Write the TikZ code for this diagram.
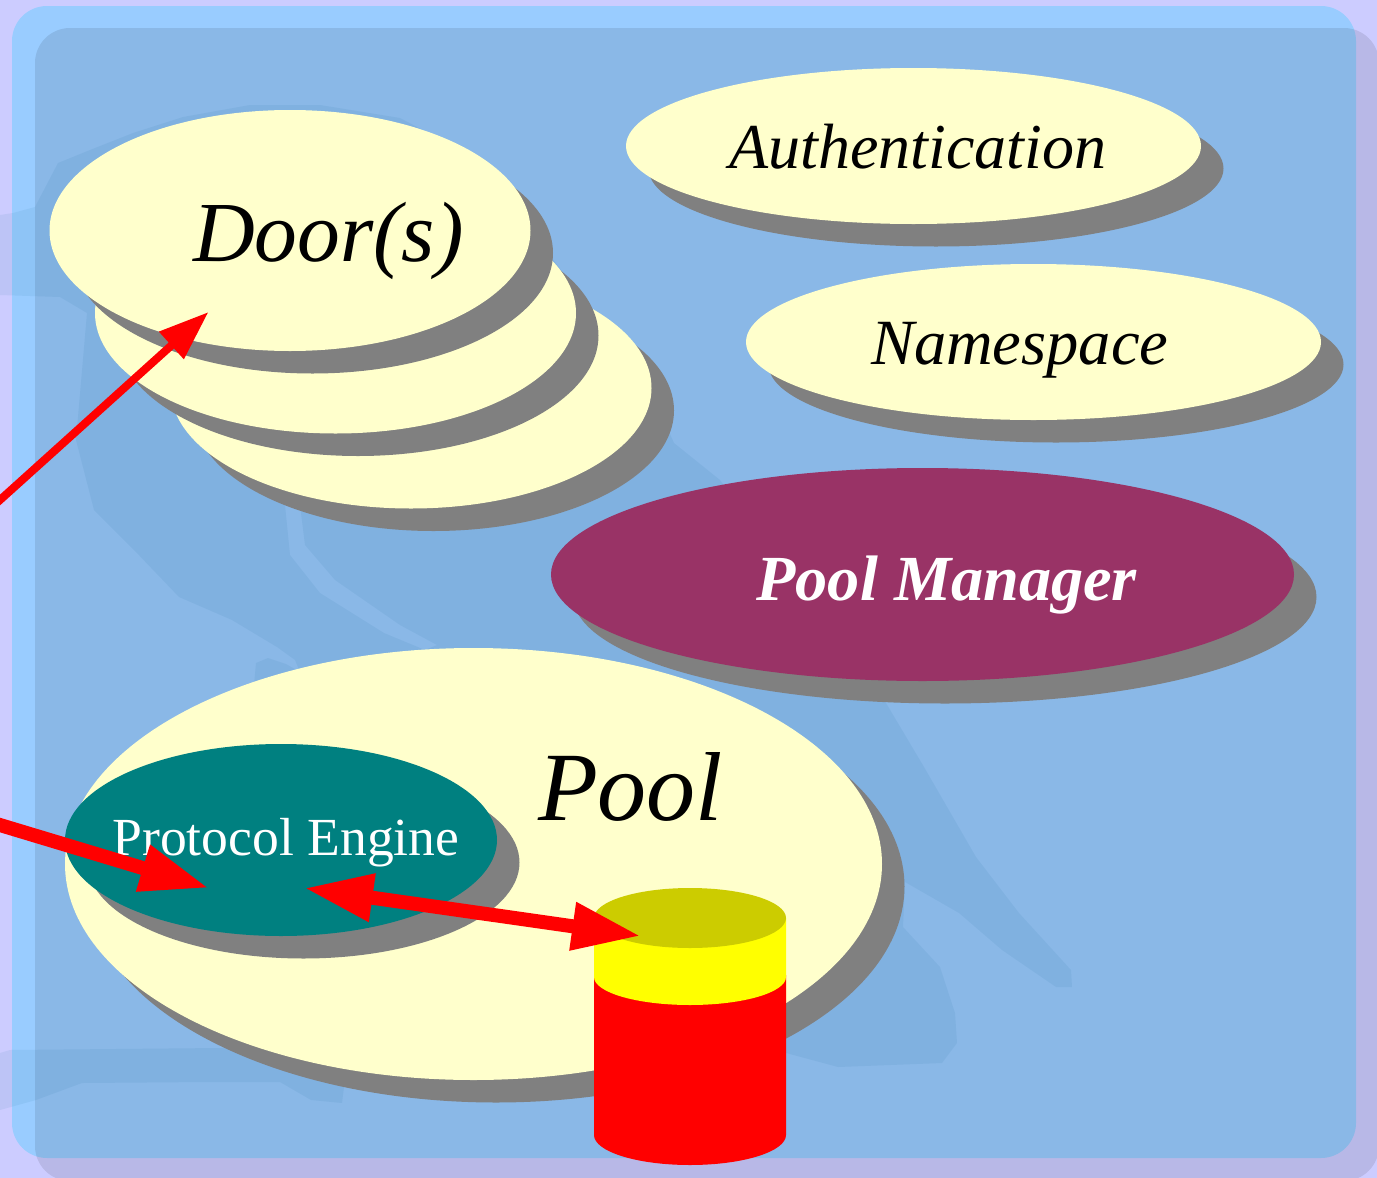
\documentclass[tikz,border=0pt]{standalone}
\usepackage{fontspec}
\setmainfont{Liberation Serif}
\usetikzlibrary{shapes.geometric,shadows,arrows.meta}
\definecolor{lav}{HTML}{CCCCFF}
\definecolor{panel}{HTML}{99CCFF}
\definecolor{cream}{HTML}{FFFFCC}
\definecolor{shadowgrey}{HTML}{808080}
\definecolor{plum}{HTML}{993366}
\definecolor{tealfill}{HTML}{008080}
\definecolor{cyltop}{HTML}{CCCC00}
\definecolor{cylband}{HTML}{FFFF00}
\definecolor{cylbody}{HTML}{FF0000}
\definecolor{wm}{HTML}{136698}
\definecolor{wire}{HTML}{FF0000}
\tikzset{
  oval/.style={ellipse,inner sep=0pt,outer sep=0pt,draw=none,
    drop shadow={shadow xshift=22.5pt,shadow yshift=-22.5pt,fill=shadowgrey,opacity=1}},
  wmark/.style={fill=wm,fill opacity=.08,draw=none},
  txt/.style={anchor=base west,inner sep=0pt,outer sep=0pt},
  wirebase/.style={draw=wire,line cap=butt,line join=miter},
  thinwire/.style={wirebase,line width=8pt,-{Triangle[length=50pt,width=35pt]}},
  fatwire/.style={wirebase,line width=14pt,>={Triangle[length=69pt,width=45pt]}}
}
\begin{document}
\begin{tikzpicture}[x=1pt,y=-1pt]
\useasboundingbox (0,0) rectangle (1377,1178);
\fill[lav] (0,0) rectangle (1377,1178);
\fill[panel,rounded corners=35pt] (12,6) rectangle (1356,1158);
\fill[black,fill opacity=.095,rounded corners=35pt] (35,28) rectangle (1379,1181);
% watermark
\path[wmark,even odd rule]
  (0,215) -- (13,213) -- (35,207) -- (58,163) -- (90,150) -- (133,133) -- (183,117) -- (250,105) -- (320,105)
  -- (400,118) -- (470,155) -- (530,230) -- (600,320) -- (650,390) -- (674,443) -- (720,480) -- (800,590)
  -- (886,703) -- (924,767) -- (976,857) -- (1019,913) -- (1071,970) -- (1072,987) -- (1056,987)
  -- (1002,950) -- (959,913) -- (905,882) -- (903,927) -- (940,967) -- (955,1013) -- (957,1043)
  -- (942,1063) -- (838,1067) -- (786,1053) -- (500,900) -- (320,700) -- (254,685) -- (256,663)
  -- (268,658) -- (286,664) -- (300,672) -- (295,660) -- (277,647) -- (232,620) -- (179,597)
  -- (134,550) -- (94,510) -- (76,440) -- (87,313) -- (60,297) -- (0,295) -- cycle
  (285,505) -- (300,505) -- (305,545) -- (335,580) -- (400,625) -- (437,645) -- (425,650)
  -- (384,633) -- (320,593) -- (290,555) -- cycle;
\path[wmark]
  (0,1053) -- (10,1050) -- (220,1048) -- (400,1060) -- (344,1087) -- (342,1103) -- (311,1100)
  -- (280,1082) -- (209,1082) -- (82,1083) -- (36,1100) -- (0,1110) -- cycle;
% door stack
\node[oval,fill=cream,minimum width=481pt,minimum height=241pt] (door3) at (411,388) {};
\node[oval,fill=cream,minimum width=481pt,minimum height=241pt] (door2) at (335.5,313) {};
\node[oval,fill=cream,minimum width=481pt,minimum height=241pt] (door1) at (290,230.5) {};
\node[oval,fill=cream,minimum width=575pt,minimum height=156pt] (auth) at (913.5,146) {};
\node[oval,fill=cream,minimum width=575pt,minimum height=156pt] (ns) at (1033.5,342) {};
\node[oval,fill=plum,minimum width=743pt,minimum height=213pt] (pm) at (922.5,574.5) {};
\node[oval,fill=cream,minimum width=817pt,minimum height=432pt] (pool) at (473.5,864) {};
\node[oval,fill=tealfill,minimum width=432pt,minimum height=192pt] (pe) at (281,840) {};
% disk
\fill[cylbody] (594,975) -- (594,1135) arc[start angle=180,end angle=360,x radius=96pt,y radius=30pt]
  -- (786,975) -- cycle;
\fill[cylband] (594,918) -- (594,977) arc[start angle=180,end angle=360,x radius=96pt,y radius=28pt]
  -- (786,918) -- cycle;
\fill[cyltop] (690,918) ellipse[x radius=96pt,y radius=30pt];
% labels
\node[txt] (doorText) at (193,261) {\fontsize{85.5}{86}\selectfont\itshape Door(s)};
\node[txt] (authText) at (729.5,168) {\fontsize{64}{64}\selectfont\itshape Authentication};
\node[txt] (nsText) at (871,364) {\fontsize{64.5}{64}\selectfont\itshape Namespace};
\node[txt,text=white] (pmText) at (756.5,600) {\fontsize{64.3}{64}\selectfont\bfseries\itshape Pool Manager};
\node[txt] (poolText) at (538,820) {\fontsize{98}{98}\selectfont\itshape Pool};
\node[txt,text=white] (peText) at (112.5,855) {\fontsize{53.6}{54}\selectfont Protocol Engine};
% connectors
\coordinate (clientA) at (-10,509);
\coordinate (clientB) at (-10,822);
\coordinate (doorPort) at (208.5,312);
\coordinate (enginePort) at (209,888);
\coordinate (engineDisk) at (304,888);
\coordinate (diskPort) at (641,936);
\draw[thinwire] (clientA) -- (doorPort);
\draw[fatwire,->] (clientB) -- (enginePort);
\draw[fatwire,<->] (engineDisk) -- (diskPort);
\end{tikzpicture}
\end{document}
